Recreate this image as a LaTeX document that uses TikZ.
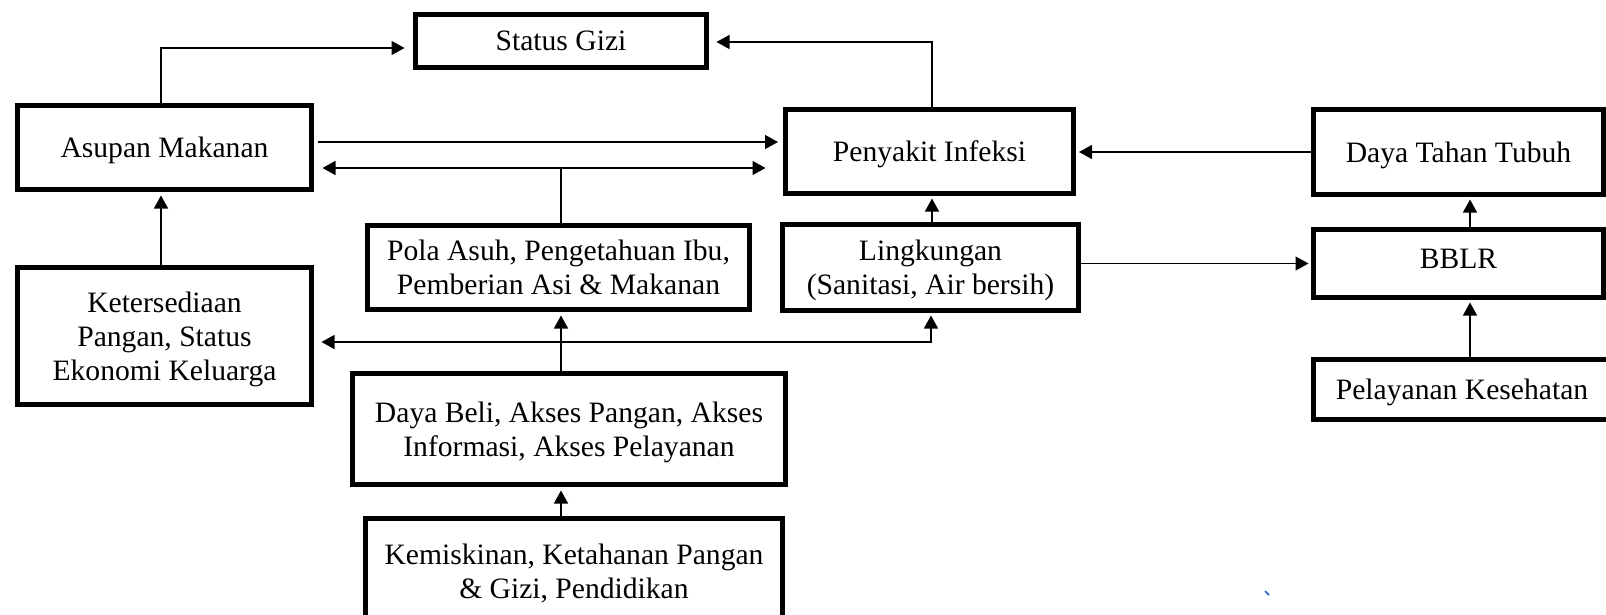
\documentclass[tikz,border=0pt]{standalone}
\usepackage{fontspec}
\setmainfont{Liberation Serif}
\usetikzlibrary{arrows.meta,calc}
\newcommand\boxfont{\fontsize{14.8pt}{17pt}\selectfont}
\definecolor{markblue}{RGB}{68,114,196}
\begin{document}
\begin{tikzpicture}[x=0.5pt,y=-0.5pt,
  boxnode/.style={draw, line width=2.5pt, inner sep=0pt, align=center, font=\boxfont, text depth=0pt},
  conn/.style={line width=0.65pt},
  arr/.style={conn, -{Triangle[length=6.5pt,width=7pt]}},
  darr/.style={conn, {Triangle[length=6.5pt,width=7pt]}-{Triangle[length=6.5pt,width=7pt]}}
]
\useasboundingbox (0,0) rectangle (1606,615);
\clip (0,0) rectangle (1606,615);

% nodes
\node[boxnode, minimum width=145.5pt, minimum height=26.5pt] (sg) at (561,41) {Status Gizi};
\node[boxnode, minimum width=147pt, minimum height=42pt] (am) at (164.5,147.5) {Asupan Makanan};
\node[boxnode, minimum width=147pt, minimum height=68.5pt] (kp) at (164.5,336) {Ketersediaan\\Pangan, Status\\Ekonomi Keluarga};
\node[boxnode, minimum width=191pt, minimum height=42pt] (pa) at (558.5,267.5) {Pola Asuh, Pengetahuan Ibu,\\Pemberian Asi \& Makanan};
\node[boxnode, minimum width=216.5pt, minimum height=55.5pt] (db) at (569,429) {Daya Beli, Akses Pangan, Akses\\Informasi, Akses Pelayanan};
\node[boxnode, minimum width=208.5pt, minimum height=52.5pt] (km) at (574,571) {Kemiskinan, Ketahanan Pangan\\\& Gizi, Pendidikan};
\node[boxnode, minimum width=144pt, minimum height=42pt] (pi) at (929.5,151.5) {Penyakit Infeksi};
\node[boxnode, minimum width=148pt, minimum height=43pt] (lk) at (930.5,267.5) {Lingkungan\\(Sanitasi, Air bersih)};
\node[boxnode, minimum width=145pt, minimum height=42.5pt] (dt) at (1458.5,152) {Daya Tahan Tubuh};
\node[boxnode, minimum width=145pt, minimum height=34pt, text depth=5pt] (bb) at (1458.5,263.5) {BBLR};
\node[boxnode, minimum width=148.5pt, minimum height=30pt] (pk) at (1462,389.5) {Pelayanan Kesehatan};

% helper coordinates
\coordinate (cl) at (161,48);
\coordinate (cr) at (932,42);
\coordinate (ya) at (561,142);
\coordinate (yd) at (561,168);
\coordinate (sp) at (561,342);
\coordinate (lb) at (931,342);
\coordinate (rs) at (1470,0);

% connectors
\draw[arr, shorten >=4.25pt] (am.north -| cl) |- (sg.west |- cl);
\draw[arr, shorten >=3.75pt] (pi.north -| cr) |- (sg.east |- cr);
\draw[arr, shorten >=2.5pt, shorten <=2pt] (am.east |- ya) -- (pi.west |- ya);
\draw[darr, shorten <=4.25pt, shorten >=8.75pt] (am.east |- yd) -- (pi.west |- yd);
\draw[conn] (pa.north -| yd) -- (yd);
\draw[arr, shorten >=1.75pt] (kp.north -| cl) -- (am.south -| cl);
\draw[arr, shorten >=1.75pt] (db.north -| sp) -- (pa.south -| sp);
\draw[darr, shorten <=3.75pt, shorten >=1.25pt] (kp.east |- sp) -- (lb) -- (lk.south -| lb);
\draw[arr, shorten >=1.75pt] (km.north -| sp) -- (db.south -| sp);
\draw[arr, shorten >=1.25pt] (lk.north -| cr) -- (pi.south -| cr);
\draw[arr, shorten >=1.25pt] (lk.east |- bb.west) -- (bb.west);
\draw[arr, shorten >=1.5pt] (dt.west) -- (pi.east |- dt.west);
\draw[arr, shorten >=1.25pt] (bb.north -| rs) -- (dt.south -| rs);
\draw[arr, shorten >=1.25pt] (pk.north -| rs) -- (bb.south -| rs);

% stray mark
\draw[markblue, line width=0.9pt] (1265,591) -- (1269,595);
\end{tikzpicture}
\end{document}
